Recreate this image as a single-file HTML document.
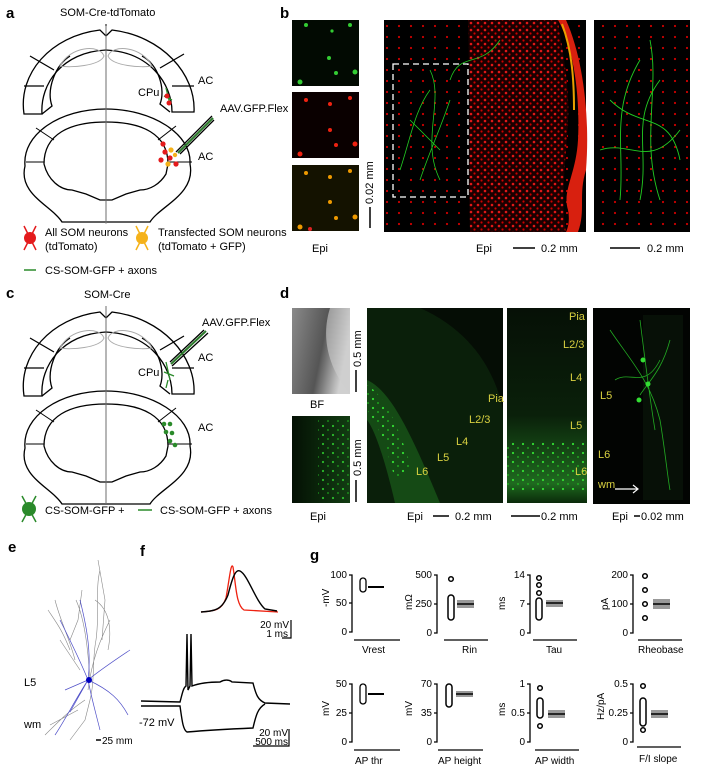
<!DOCTYPE html>
<html><head><meta charset="utf-8"><style>
html,body{margin:0;padding:0;background:#fff}
svg{display:block}
text{font-family:"Liberation Sans",sans-serif}
</style></head><body>
<svg width="702" height="774" viewBox="0 0 702 774" xmlns="http://www.w3.org/2000/svg">
<defs>
<pattern id="rd" width="7" height="7" patternUnits="userSpaceOnUse"><rect width="7" height="7" fill="#1a0000"/><circle cx="2" cy="2" r="1.3" fill="#e01818"/><circle cx="5.5" cy="5.5" r="1.1" fill="#c00"/></pattern>
<pattern id="rd2" width="12" height="11" patternUnits="userSpaceOnUse"><rect width="12" height="11" fill="#000"/><circle cx="3" cy="4" r="1.1" fill="#c00"/></pattern>
<pattern id="gd" width="10" height="9" patternUnits="userSpaceOnUse"><circle cx="3" cy="3" r="1.1" fill="#3d3"/><circle cx="8" cy="7" r="0.9" fill="#2b2"/></pattern>
<linearGradient id="bf" x1="0" x2="1" y1="0" y2="0.3"><stop offset="0" stop-color="#8a8a8a"/><stop offset="0.6" stop-color="#555"/><stop offset="1" stop-color="#d0d0d0"/></linearGradient>
<linearGradient id="g3" x1="0" x2="0" y1="0" y2="1"><stop offset="0" stop-color="#061006"/><stop offset="0.55" stop-color="#0a200a"/><stop offset="0.9" stop-color="#1f6a1f"/><stop offset="1" stop-color="#0a2a0a"/></linearGradient>
<linearGradient id="gs" x1="0" x2="1"><stop offset="0" stop-color="#041004"/><stop offset="1" stop-color="#123c12"/></linearGradient>
<g id="brain" fill="none" stroke="#000" stroke-width="1.3">
<path d="M24,120 C18,80 50,42 100,36 L106,42 L112,36 C162,42 196,80 194,118 L172,118 C172,90 150,58 106,56 C62,58 40,90 42,120 Z" fill="#fff"/>
<path d="M42,120 L52,112 C46,95 56,70 70,62 M170,118 L160,110 C166,95 158,70 142,62" />
<path d="M24,92 L44,92 M30,62 L54,76 M172,92 L194,92 M184,60 L160,74"/>
<path d="M60,72 C70,52 100,50 104,62 C100,72 70,74 60,72 Z M108,62 C112,50 142,52 152,72 C142,74 112,72 108,62 Z" stroke="#aaa" stroke-width="1"/>
<path d="M25,172 C22,140 60,115 106,115 C152,115 192,140 190,170 C196,200 160,212 150,228 L62,228 C52,212 18,200 25,172 Z" fill="#fff"/>
<path d="M44,170 C44,140 70,128 106,128 C142,128 168,140 168,170 L166,180 C160,190 150,196 140,196 L126,200 L112,206 L100,206 L86,200 L72,196 C60,196 48,186 44,170 Z"/>
<path d="M26,168 L44,168 M168,168 L192,168 M36,134 L54,146 M176,132 L158,146 M106,30 L106,228" stroke-width="1"/>
</g>
</defs>

<!-- panel a -->
<text x="6" y="18" font-size="15" font-weight="bold">a</text>
<text x="60" y="16" font-size="11">SOM-Cre-tdTomato</text>
<use href="#brain" transform="translate(0,-6)"/>
<line x1="106" y1="26" x2="106" y2="224" stroke="#888" stroke-width="0.8"/>
<text x="198" y="84" font-size="11">AC</text>
<text x="138" y="96" font-size="11">CPu</text>
<text x="220" y="112" font-size="11">AAV.GFP.Flex</text>
<text x="198" y="160" font-size="11">AC</text>
<path d="M176,152 L212,116 M180,154 L214,120" stroke="#000" stroke-width="1.3"/>
<path d="M178,153 L213,118" stroke="#2a7a2a" stroke-width="2"/>
<path d="M166,88 L170,104 M164,96 L172,100" stroke="#2a8a2a" stroke-width="1.3"/>
<g fill="#e41a1c"><circle cx="167" cy="96" r="2.5"/><circle cx="169" cy="103" r="2.5"/><circle cx="163" cy="144" r="2.6"/><circle cx="165" cy="152" r="2.6"/><circle cx="170" cy="158" r="2.6"/><circle cx="176" cy="164" r="2.6"/><circle cx="161" cy="160" r="2.6"/></g>
<g fill="#f5b21a"><circle cx="171" cy="150" r="2.6"/><circle cx="168" cy="164" r="2.6"/><circle cx="175" cy="155" r="2.2"/></g>
<path d="M24,226 L36,250 M36,226 L24,250" stroke="#e41a1c" stroke-width="1.5"/><circle cx="30" cy="238" r="6" fill="#e41a1c"/>
<path d="M136,226 L148,250 M148,226 L136,250" stroke="#f5b21a" stroke-width="1.5"/><circle cx="142" cy="238" r="6" fill="#f5b21a"/>
<text x="45" y="236" font-size="11">All SOM neurons</text><text x="45" y="250" font-size="11">(tdTomato)</text>
<text x="158" y="236" font-size="11">Transfected SOM neurons</text><text x="158" y="250" font-size="11">(tdTomato + GFP)</text>
<line x1="24" y1="270" x2="36" y2="270" stroke="#2a8a2a" stroke-width="1.5"/><text x="45" y="274" font-size="11">CS-SOM-GFP + axons</text>

<!-- panel b -->
<text x="280" y="18" font-size="15" font-weight="bold">b</text>
<rect x="292" y="20" width="67" height="66" fill="#020a02"/>
<g fill="#3c3"><circle cx="306" cy="25" r="2"/><circle cx="332" cy="31" r="1.6"/><circle cx="350" cy="25" r="2"/><circle cx="329" cy="58" r="2"/><circle cx="336" cy="73" r="2"/><circle cx="355" cy="72" r="2.5"/><circle cx="300" cy="82" r="2.5"/></g>
<rect x="292" y="92" width="67" height="66" fill="#0a0000"/>
<g fill="#e21"><circle cx="306" cy="100" r="2"/><circle cx="330" cy="104" r="2"/><circle cx="350" cy="98" r="2"/><circle cx="330" cy="130" r="2"/><circle cx="336" cy="145" r="2"/><circle cx="355" cy="144" r="2.5"/><circle cx="300" cy="154" r="2.5"/></g>
<rect x="292" y="165" width="67" height="66" fill="#141200"/>
<g fill="#e90"><circle cx="306" cy="173" r="2"/><circle cx="330" cy="177" r="2"/><circle cx="350" cy="171" r="2"/><circle cx="330" cy="202" r="2"/><circle cx="336" cy="218" r="2"/><circle cx="355" cy="217" r="2.5"/><circle cx="300" cy="227" r="2.5"/><circle cx="310" cy="229" r="2" fill="#d22"/></g>
<line x1="370" y1="207" x2="370" y2="228" stroke="#000" stroke-width="1.5"/>
<text transform="translate(373,204) rotate(-90)" font-size="11">0.02 mm</text>
<text x="312" y="252" font-size="11">Epi</text>
<rect x="384" y="20" width="202" height="212" fill="url(#rd2)"/>
<path d="M468,20 C470,80 468,160 470,232 L566,232 C560,200 566,160 568,120 C570,80 560,40 558,20 Z" fill="url(#rd)"/>
<path d="M558,20 C575,50 580,100 578,140 C576,175 562,190 568,210 C570,220 568,228 566,232 L578,232 C586,210 578,195 586,170 C590,120 584,60 566,20 Z" fill="#d8200f"/>
<path d="M562,24 C572,50 574,80 574,110" stroke="#e8a000" stroke-width="2" fill="none"/>
<path d="M400,170 C410,140 415,110 430,90 M420,180 C430,150 440,130 450,100 M410,120 L440,150 M430,70 C445,100 420,140 440,180 M500,40 C480,70 460,50 450,80" stroke="#2c2" stroke-width="0.8" fill="none"/>
<rect x="393" y="64" width="75" height="133" fill="none" stroke="#fff" stroke-width="1.3" stroke-dasharray="6,4"/>
<rect x="594" y="20" width="96" height="212" fill="url(#rd2)"/>
<path d="M620,200 C625,150 610,110 640,60 M640,200 C650,150 630,120 660,80 M610,100 C640,130 670,110 680,160 M650,40 C660,90 640,140 660,200 M600,150 C630,140 650,170 680,130" stroke="#2c2" stroke-width="0.9" fill="none"/>
<text x="476" y="252" font-size="11">Epi</text>
<line x1="513" y1="248" x2="535" y2="248" stroke="#000" stroke-width="1.5"/><text x="541" y="252" font-size="11">0.2 mm</text>
<line x1="610" y1="248" x2="640" y2="248" stroke="#000" stroke-width="1.5"/><text x="647" y="252" font-size="11">0.2 mm</text>

<!-- panel c -->
<text x="6" y="298" font-size="15" font-weight="bold">c</text>
<text x="84" y="298" font-size="11">SOM-Cre</text>
<use href="#brain" transform="translate(0,276)"/>
<line x1="106" y1="306" x2="106" y2="504" stroke="#888" stroke-width="0.8"/>
<text x="198" y="361" font-size="11">AC</text>
<text x="138" y="376" font-size="11">CPu</text>
<text x="202" y="326" font-size="11">AAV.GFP.Flex</text>
<text x="198" y="431" font-size="11">AC</text>
<path d="M170,362 L204,330 M172,366 L208,333" stroke="#000" stroke-width="1.3"/>
<path d="M171,364 L206,331" stroke="#2a7a2a" stroke-width="2"/>
<path d="M166,362 L170,380 M164,372 L174,376 M168,380 L166,388" stroke="#2a8a2a" stroke-width="1.3"/>
<g fill="#2a8a2a"><circle cx="164" cy="424" r="2.3"/><circle cx="170" cy="424" r="2.3"/><circle cx="166" cy="432" r="2.3"/><circle cx="172" cy="433" r="2.3"/><circle cx="170" cy="441" r="2.3"/><circle cx="175" cy="445" r="2.3"/></g>
<path d="M22,496 L36,522 M36,496 L22,522" stroke="#2a8a2a" stroke-width="1.5"/><circle cx="29" cy="509" r="7" fill="#2a8a2a"/>
<text x="45" y="514" font-size="11">CS-SOM-GFP +</text>
<line x1="138" y1="510" x2="152" y2="510" stroke="#2a8a2a" stroke-width="1.5"/><text x="160" y="514" font-size="11">CS-SOM-GFP + axons</text>

<!-- panel d -->
<text x="280" y="298" font-size="15" font-weight="bold">d</text>
<rect x="292" y="308" width="58" height="86" fill="url(#bf)"/>
<path d="M330,308 C320,340 330,370 350,394 L350,308 Z" fill="#cfcfcf" opacity="0.6"/>
<text x="310" y="408" font-size="11">BF</text>
<line x1="356" y1="370" x2="356" y2="392" stroke="#000" stroke-width="1.5"/><text transform="translate(361,367) rotate(-90)" font-size="11">0.5 mm</text>
<rect x="292" y="416" width="58" height="87" fill="url(#gs)"/>
<rect x="318" y="420" width="32" height="80" fill="url(#gd)" opacity="0.8"/>
<line x1="356" y1="480" x2="356" y2="502" stroke="#000" stroke-width="1.5"/><text transform="translate(361,476) rotate(-90)" font-size="11">0.5 mm</text>
<text x="310" y="520" font-size="11">Epi</text>
<rect x="367" y="308" width="136" height="195" fill="#0a1f0a"/>
<path d="M420,308 C470,330 495,370 503,410 L503,308 Z" fill="#050d05"/>
<path d="M367,380 C390,390 410,430 440,503 L395,503 C385,460 375,430 367,420 Z" fill="#154a15"/>
<path d="M367,385 C385,395 400,430 412,470 L395,480 C385,440 375,420 367,410 Z" fill="url(#gd)"/>
<g font-size="11" fill="#d8d040"><text x="488" y="402">Pia</text><text x="469" y="423">L2/3</text><text x="456" y="445">L4</text><text x="437" y="461">L5</text><text x="416" y="475">L6</text></g>
<rect x="507" y="308" width="80" height="195" fill="url(#g3)"/>
<rect x="507" y="440" width="80" height="52" fill="url(#gd)"/>
<g font-size="11" fill="#d8d040"><text x="569" y="320">Pia</text><text x="563" y="348">L2/3</text><text x="570" y="381">L4</text><text x="570" y="429">L5</text><text x="575" y="475">L6</text></g>
<rect x="593" y="308" width="97" height="196" fill="#020402"/>
<rect x="643" y="315" width="40" height="185" fill="#071007"/>
<path d="M610,330 C630,360 650,380 660,420 C665,450 668,480 670,490 M640,320 C645,360 650,400 655,430 M615,380 C630,370 645,390 660,360 M670,340 C662,370 650,380 640,395" stroke="#2a2" stroke-width="0.8" fill="none"/>
<circle cx="643" cy="360" r="2.5" fill="#3d3"/><circle cx="648" cy="384" r="2.5" fill="#3d3"/><circle cx="639" cy="400" r="2.5" fill="#3d3"/>
<g font-size="11" fill="#d8d040"><text x="600" y="399">L5</text><text x="598" y="458">L6</text><text x="598" y="488">wm</text></g>
<path d="M615,489 L638,489 M633,485 L638,489 L633,493" stroke="#fff" stroke-width="1.2" fill="none"/>
<text x="407" y="520" font-size="11">Epi</text>
<line x1="433" y1="516" x2="449" y2="516" stroke="#000" stroke-width="1.5"/><text x="455" y="520" font-size="11">0.2 mm</text>
<line x1="511" y1="516" x2="540" y2="516" stroke="#000" stroke-width="1.5"/><text x="541" y="520" font-size="11">0.2 mm</text>
<text x="612" y="520" font-size="11">Epi</text>
<line x1="634" y1="516" x2="640" y2="516" stroke="#000" stroke-width="1.5"/><text x="641" y="520" font-size="11">0.02 mm</text>

<!-- panel e -->
<text x="8" y="552" font-size="15" font-weight="bold">e</text>
<g fill="none" stroke="#888" stroke-width="0.6">
<path d="M100,570 C95,590 100,610 96,640 C92,660 95,680 90,700 M76,600 C85,620 88,650 90,680 M55,600 C60,620 70,640 75,660 M98,560 L105,600 L102,640 M110,620 C100,640 92,660 88,690 M60,640 L80,670 M45,735 C60,720 70,710 85,700 M70,740 L85,720 L90,700 M50,725 L78,710 M48,610 C58,625 62,630 70,650 M82,590 L78,620 L70,640 M95,600 C110,610 112,630 108,650"/>
</g>
<g fill="none" stroke="#5050c8" stroke-width="0.7">
<path d="M88,680 C80,660 70,640 60,620 M88,680 C100,670 115,660 130,650 M88,680 C75,700 65,720 55,735 M88,680 C92,700 95,710 100,730 M88,680 L65,690 M88,680 C92,650 85,620 80,600 M88,680 C110,690 120,700 128,715 M88,680 L70,712"/>
</g>
<circle cx="89" cy="680" r="3" fill="#0000c0"/>
<text x="24" y="686" font-size="11">L5</text>
<text x="24" y="728" font-size="11">wm</text>
<line x1="96" y1="740" x2="101" y2="740" stroke="#000" stroke-width="1.5"/><text x="102" y="744" font-size="10">25 mm</text>

<!-- panel f -->
<text x="140" y="556" font-size="15" font-weight="bold">f</text>
<path d="M201,612 C215,611 222,610 226,598 C230,575 231,562 233,567 C236,585 236,605 244,610 L278,612" stroke="#e21" stroke-width="1.3" fill="none"/>
<path d="M201,612 C215,611 222,610 228,595 C233,575 236,569 240,571 C248,575 255,600 265,609 L277,611" stroke="#000" stroke-width="1.4" fill="none"/>
<path d="M291,620 L291,638 L282,638" stroke="#000" stroke-width="1.2" fill="none"/>
<text x="289" y="628" font-size="10" text-anchor="end">20 mV</text><text x="288" y="637" font-size="10" text-anchor="end">1 ms</text>
<path d="M141,701 L180,702 C182,695 183,688 186,686 L187,634 L188,690 L190,686 L191,634 L192,686 C200,683 210,682 220,682 C225,679 230,680 232,682 L253,683 C256,695 258,700 265,703 L290,704" stroke="#000" stroke-width="1.4" fill="none"/>
<path d="M141,706 L180,706 C182,720 183,730 187,732 C210,730 230,729 253,728 C256,715 258,708 265,704" stroke="#000" stroke-width="1.4" fill="none"/>
<text x="139" y="726" font-size="11">-72 mV</text>
<path d="M289,729 L289,746 L253,746" stroke="#000" stroke-width="1.2" fill="none"/>
<text x="288" y="736" font-size="10" text-anchor="end">20 mV</text><text x="288" y="745" font-size="10" text-anchor="end">500 ms</text>

<!-- panel g -->
<text x="310" y="560" font-size="15" font-weight="bold">g</text>
<g font-size="10" stroke-width="1.3">
<g>
<path d="M349,575 L352,575 L352,632 L349,632 M349,603 L352,603" stroke="#000" fill="none"/>
<text x="347" y="578" text-anchor="end">100</text><text x="347" y="606" text-anchor="end">50</text><text x="347" y="635" text-anchor="end">0</text>
<text transform="translate(329,607) rotate(-90)">-mV</text>
<rect x="360" y="578" width="6" height="14" rx="3" fill="none" stroke="#000"/>
<line x1="368" y1="587" x2="384" y2="587" stroke="#000" stroke-width="2"/>
<line x1="354" y1="640" x2="400" y2="640" stroke="#000"/><text x="362" y="653">Vrest</text>
</g>
<g>
<path d="M434,575 L437,575 L437,633 L434,633 M434,604 L437,604" stroke="#000" fill="none"/>
<text x="432" y="578" text-anchor="end">500</text><text x="432" y="607" text-anchor="end">250</text><text x="432" y="636" text-anchor="end">0</text>
<text transform="translate(412,610) rotate(-90)">mΩ</text>
<g fill="none" stroke="#000" stroke-width="1.5"><circle cx="451" cy="579" r="2.3"/><rect x="448" y="595" width="6" height="25" rx="3"/></g>
<rect x="457" y="600" width="17" height="8" fill="#999"/><line x1="457" y1="604" x2="474" y2="604" stroke="#000" stroke-width="1.5"/>
<line x1="444" y1="640" x2="488" y2="640" stroke="#000"/><text x="462" y="653">Rin</text>
</g>
<g>
<path d="M527,575 L530,575 L530,633 L527,633 M527,604 L530,604" stroke="#000" fill="none"/>
<text x="525" y="578" text-anchor="end">14</text><text x="525" y="607" text-anchor="end">7</text><text x="525" y="636" text-anchor="end">0</text>
<text transform="translate(505,610) rotate(-90)">ms</text>
<g fill="none" stroke="#000" stroke-width="1.5"><circle cx="539" cy="578" r="2.3"/><circle cx="539" cy="585" r="2.3"/><circle cx="539" cy="593" r="2.3"/><rect x="536" y="598" width="6" height="22" rx="3"/></g>
<rect x="546" y="600" width="17" height="7" fill="#999"/><line x1="546" y1="603" x2="563" y2="603" stroke="#000" stroke-width="1.5"/>
<line x1="533" y1="640" x2="577" y2="640" stroke="#000"/><text x="546" y="653">Tau</text>
</g>
<g>
<path d="M630,575 L633,575 L633,633 L630,633 M630,604 L633,604" stroke="#000" fill="none"/>
<text x="628" y="578" text-anchor="end">200</text><text x="628" y="607" text-anchor="end">100</text><text x="628" y="636" text-anchor="end">0</text>
<text transform="translate(608,610) rotate(-90)">pA</text>
<g fill="none" stroke="#000" stroke-width="1.5"><circle cx="645" cy="576" r="2.3"/><circle cx="645" cy="590" r="2.3"/><circle cx="645" cy="604" r="2.3"/><circle cx="645" cy="618" r="2.3"/></g>
<rect x="653" y="599" width="17" height="10" fill="#999"/><line x1="653" y1="604" x2="670" y2="604" stroke="#000" stroke-width="1.5"/>
<line x1="638" y1="640" x2="682" y2="640" stroke="#000"/><text x="638" y="653">Rheobase</text>
</g>
<g>
<path d="M349,684 L352,684 L352,742 L349,742 M349,713 L352,713" stroke="#000" fill="none"/>
<text x="347" y="687" text-anchor="end">50</text><text x="347" y="716" text-anchor="end">25</text><text x="347" y="745" text-anchor="end">0</text>
<text transform="translate(329,716) rotate(-90)">mV</text>
<rect x="360" y="684" width="6" height="20" rx="3" fill="none" stroke="#000"/>
<line x1="368" y1="694" x2="384" y2="694" stroke="#000" stroke-width="2"/>
<line x1="354" y1="750" x2="400" y2="750" stroke="#000"/><text x="355" y="764">AP thr</text>
</g>
<g>
<path d="M434,684 L437,684 L437,742 L434,742 M434,713 L437,713" stroke="#000" fill="none"/>
<text x="432" y="687" text-anchor="end">70</text><text x="432" y="716" text-anchor="end">35</text><text x="432" y="745" text-anchor="end">0</text>
<text transform="translate(412,716) rotate(-90)">mV</text>
<rect x="446" y="684" width="6" height="23" rx="3" fill="none" stroke="#000" stroke-width="1.5"/>
<rect x="456" y="691" width="17" height="6" fill="#999"/><line x1="456" y1="694" x2="473" y2="694" stroke="#000" stroke-width="1.5"/>
<line x1="438" y1="750" x2="483" y2="750" stroke="#000"/><text x="438" y="764">AP height</text>
</g>
<g>
<path d="M527,684 L530,684 L530,742 L527,742 M527,713 L530,713" stroke="#000" fill="none"/>
<text x="525" y="687" text-anchor="end">1</text><text x="525" y="716" text-anchor="end">0.5</text><text x="525" y="745" text-anchor="end">0</text>
<text transform="translate(505,716) rotate(-90)">ms</text>
<g fill="none" stroke="#000" stroke-width="1.5"><circle cx="540" cy="688" r="2.3"/><rect x="537" y="698" width="6" height="20" rx="3"/><circle cx="540" cy="726" r="2.3"/></g>
<rect x="548" y="710" width="17" height="8" fill="#999"/><line x1="548" y1="714" x2="565" y2="714" stroke="#000" stroke-width="1.5"/>
<line x1="535" y1="750" x2="579" y2="750" stroke="#000"/><text x="535" y="764">AP width</text>
</g>
<g>
<path d="M630,684 L633,684 L633,742 L630,742 M630,713 L633,713" stroke="#000" fill="none"/>
<text x="628" y="687" text-anchor="end">0.5</text><text x="628" y="716" text-anchor="end">0.25</text><text x="628" y="745" text-anchor="end">0</text>
<text transform="translate(604,720) rotate(-90)">Hz/pA</text>
<g fill="none" stroke="#000" stroke-width="1.5"><circle cx="643" cy="686" r="2.3"/><rect x="640" y="698" width="6" height="28" rx="3"/><circle cx="643" cy="730" r="2.3"/></g>
<rect x="651" y="710" width="17" height="8" fill="#999"/><line x1="651" y1="714" x2="668" y2="714" stroke="#000" stroke-width="1.5"/>
<line x1="637" y1="747" x2="681" y2="747" stroke="#000"/><text x="639" y="762">F/I slope</text>
</g>
</g>
</svg>
</body></html>
